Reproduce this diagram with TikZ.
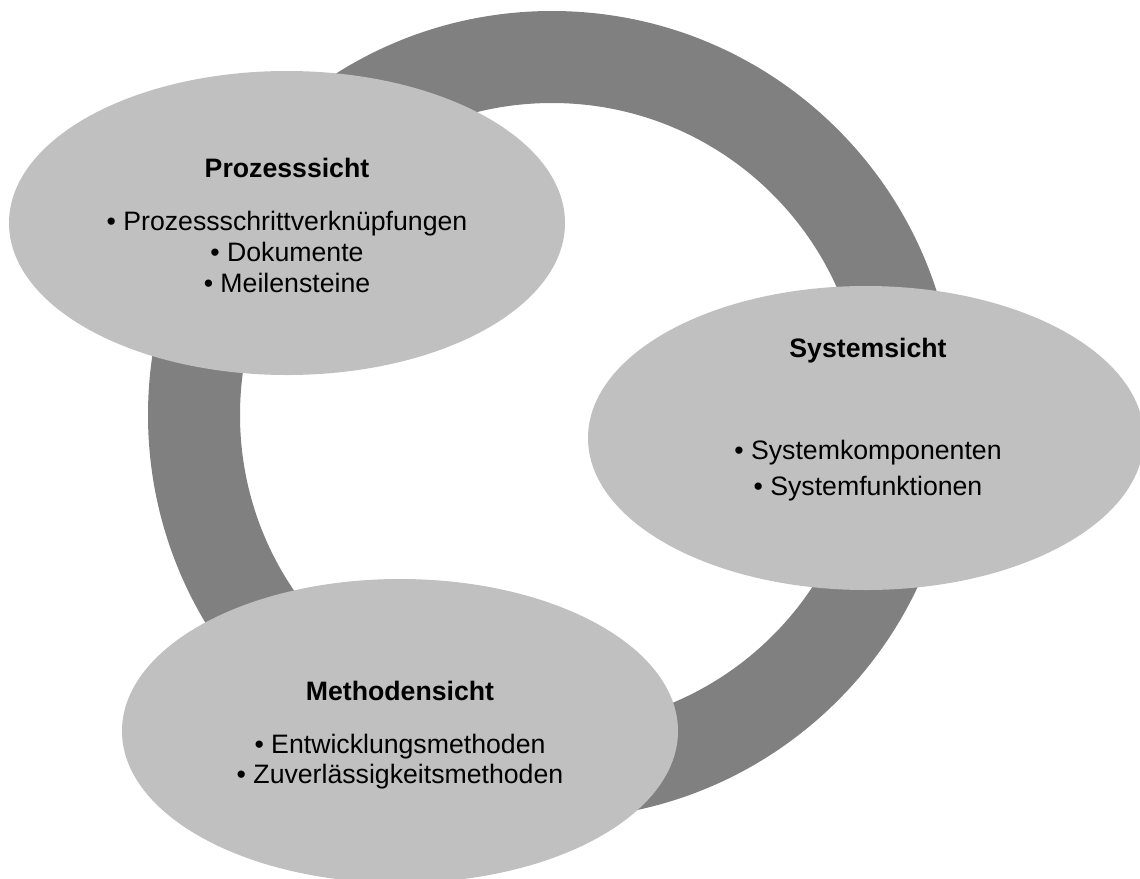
\documentclass[tikz,border=0pt]{standalone}
\usepackage{fontspec}
\setmainfont{Liberation Sans}
\usetikzlibrary{shapes.geometric}
\definecolor{ringgray}{HTML}{808080}
\definecolor{viewgray}{HTML}{C0C0C0}
\begin{document}
\begin{tikzpicture}[x=0.75pt,y=-0.75pt,
  view/.style={ellipse, fill=viewgray, draw=none, inner sep=0pt,
    minimum width=417pt, minimum height=228pt},
  heading/.style={anchor=base, inner sep=0pt, font=\fontsize{20}{24}\selectfont\bfseries},
  item/.style={anchor=base, inner sep=0pt, font=\fontsize{20}{24}\selectfont}]
\useasboundingbox (0,0) rectangle (1140,879);
\clip (0,0) rectangle (1140,879);

% cycle ring behind the three views
\coordinate (hub) at (552,415);
\fill[ringgray, even odd rule] (hub) circle[radius=404] (hub) circle[radius=312];

% the three views
\node[view] (proc) at (287,223) {};
\node[view] (sys)  at (866,438) {};
\node[view] (meth) at (400,731) {};

% process view
\node[heading] (procT) at (287,177) {Prozesssicht};
\node[item] (procA) at (287,230) {• Prozessschrittverknüpfungen};
\node[item] (procB) at (287,261) {• Dokumente};
\node[item] (procC) at (287,292) {• Meilensteine};

% system view
\node[heading] (sysT) at (868,357) {Systemsicht};
\node[item] (sysA) at (868,459) {• Systemkomponenten};
\node[item] (sysB) at (868,495) {• Systemfunktionen};

% method view
\node[heading] (methT) at (400,700) {Methodensicht};
\node[item] (methA) at (400,753) {• Entwicklungsmethoden};
\node[item] (methB) at (400,783) {• Zuverlässigkeitsmethoden};
\end{tikzpicture}
\end{document}
